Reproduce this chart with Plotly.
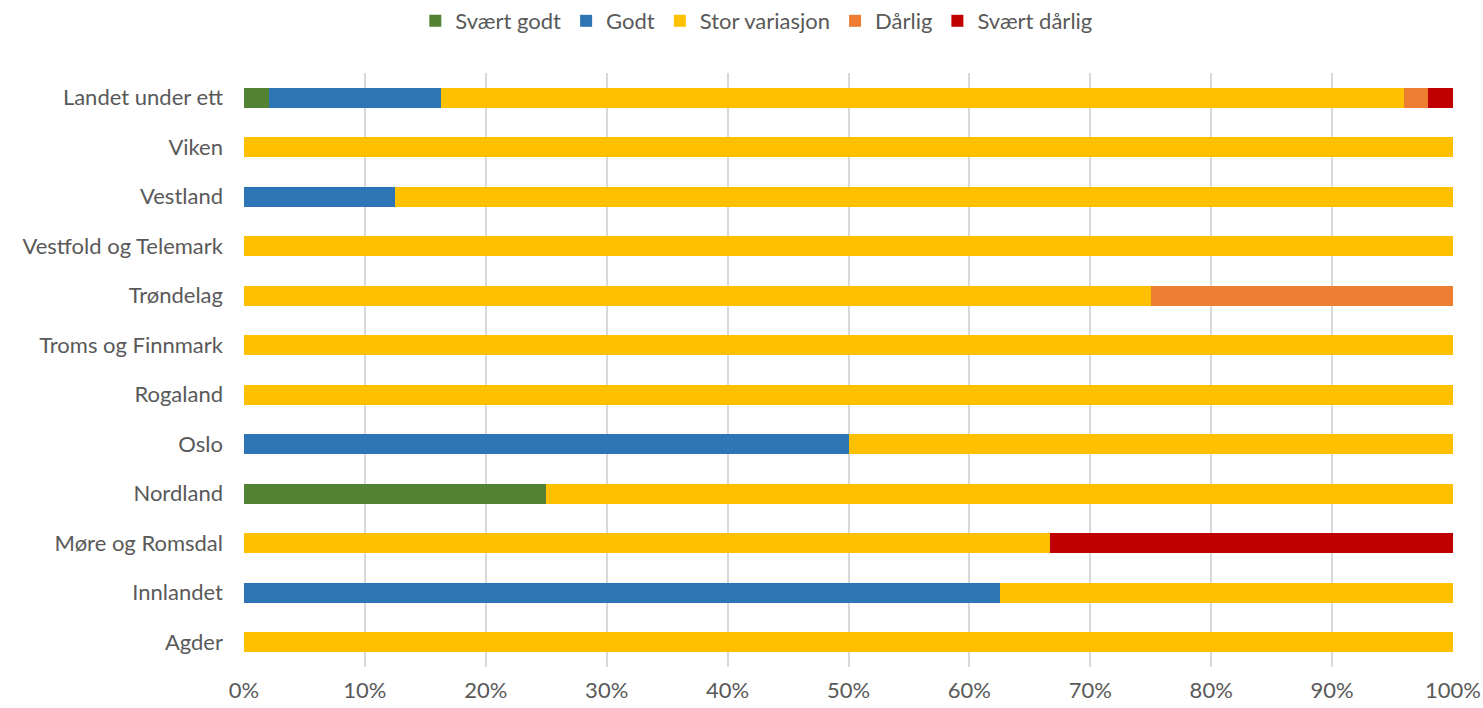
import plotly.graph_objects as go

# regioner, fra bunn til topp
regioner = ["Agder", "Innlandet", "Møre og Romsdal", "Nordland", "Oslo", "Rogaland",
            "Troms og Finnmark", "Trøndelag", "Vestfold og Telemark", "Vestland",
            "Viken", "Landet under ett"]

svaert_godt = [0, 0, 0, 25, 0, 0, 0, 0, 0, 0, 0, 2.04]
godt = [0, 62.5, 0, 0, 50, 0, 0, 0, 0, 12.5, 0, 14.29]
stor_variasjon = [100, 37.5, 66.67, 75, 50, 100, 100, 75, 100, 87.5, 100, 79.59]
daarlig = [0, 0, 0, 0, 0, 0, 0, 25, 0, 0, 0, 2.04]
svaert_daarlig = [0, 0, 33.33, 0, 0, 0, 0, 0, 0, 0, 0, 2.04]

serier = [
    ("Svært godt", svaert_godt, "#548235"),
    ("Godt", godt, "#2e75b6"),
    ("Stor variasjon", stor_variasjon, "#ffc000"),
    ("Dårlig", daarlig, "#ed7d31"),
    ("Svært dårlig", svaert_daarlig, "#c00000"),
]

fig = go.Figure()
for navn, verdier, farge in serier:
    fig.add_trace(go.Bar(y=regioner, x=verdier, name=navn, orientation="h",
                         marker=dict(color=farge, line=dict(width=0))))

fig.update_layout(
    barmode="stack",
    bargap=0.6,
    width=1483, height=708,
    margin=dict(l=244, r=30, t=73, b=41, autoexpand=False),
    plot_bgcolor="white", paper_bgcolor="white",
    font=dict(family="Lato, Open Sans, sans-serif", size=22, color="#595959"),
    legend=dict(orientation="h", x=0.51, xanchor="center", xref="container",
                y=1, yanchor="top", yref="container",
                font=dict(size=22), traceorder="normal",
                itemwidth=30, tracegroupgap=0),
    xaxis=dict(range=[0, 100], tickvals=list(range(0, 101, 10)),
               ticktext=[f"{v}%" for v in range(0, 101, 10)],
               showgrid=True, gridcolor="#d9d9d9", gridwidth=2,
               zeroline=False, ticks="", ticklabelstandoff=8, automargin=False),
    yaxis=dict(showgrid=False, ticks="", ticklabelstandoff=20, showline=False,
               automargin=False),
)

# ingen body-marg og ingen rullefelt, så figuren fyller vinduet nøyaktig
css = ("document.documentElement.style.overflow='hidden';"
       "document.body.style.margin='0px';document.body.style.overflow='hidden';")
fig.write_html("out.html", post_script=css, config={"displayModeBar": False})
